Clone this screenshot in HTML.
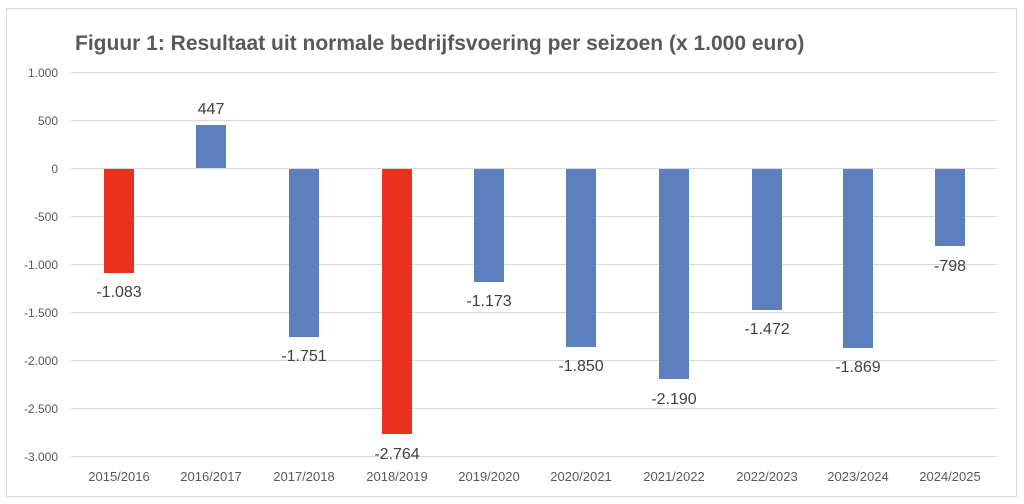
<!DOCTYPE html>
<html><head><meta charset="utf-8"><style>
body{margin:0;background:#fff;width:1024px;height:499px;overflow:hidden}
text{font-family:"Liberation Sans",sans-serif}
</style></head><body>
<svg width="1024" height="499" xmlns="http://www.w3.org/2000/svg">
<rect x="6.5" y="8.5" width="1010" height="488" fill="#fff" stroke="#d9d9d9"/>
<text x="75" y="50" font-size="21" font-weight="bold" fill="#595959">Figuur 1: Resultaat uit normale bedrijfsvoering per seizoen (x 1.000 euro)</text>
<g stroke="#d9d9d9" stroke-width="1">
<line x1="71" x2="997" y1="72.5" y2="72.5"/>
<line x1="71" x2="997" y1="120.5" y2="120.5"/>
<line x1="71" x2="997" y1="216.5" y2="216.5"/>
<line x1="71" x2="997" y1="264.5" y2="264.5"/>
<line x1="71" x2="997" y1="312.5" y2="312.5"/>
<line x1="71" x2="997" y1="360.5" y2="360.5"/>
<line x1="71" x2="997" y1="408.5" y2="408.5"/>
<line x1="71" x2="997" y1="456.5" y2="456.5"/>
<line x1="71" x2="997" y1="168.5" y2="168.5"/>
</g>
<g font-size="12" fill="#595959" text-anchor="end">
<text x="58" y="77">1.000</text>
<text x="58" y="125">500</text>
<text x="58" y="173">0</text>
<text x="58" y="221">-500</text>
<text x="58" y="269">-1.000</text>
<text x="58" y="317">-1.500</text>
<text x="58" y="365">-2.000</text>
<text x="58" y="413">-2.500</text>
<text x="58" y="461">-3.000</text>
</g>
<g>
<rect x="104" y="169" width="30" height="104" fill="#e8321e"/>
<rect x="196" y="125" width="30" height="43" fill="#5b80bd"/>
<rect x="289" y="169" width="30" height="168" fill="#5b80bd"/>
<rect x="382" y="169" width="30" height="265" fill="#e8321e"/>
<rect x="474" y="169" width="30" height="113" fill="#5b80bd"/>
<rect x="566" y="169" width="30" height="178" fill="#5b80bd"/>
<rect x="659" y="169" width="30" height="210" fill="#5b80bd"/>
<rect x="752" y="169" width="30" height="141" fill="#5b80bd"/>
<rect x="843" y="169" width="30" height="179" fill="#5b80bd"/>
<rect x="935" y="169" width="30" height="77" fill="#5b80bd"/>
</g>
<g font-size="16" fill="#404040" text-anchor="middle">
<text x="119" y="297">-1.083</text>
<text x="211" y="114">447</text>
<text x="304" y="361">-1.751</text>
<text x="397" y="459">-2.764</text>
<text x="489" y="306">-1.173</text>
<text x="581" y="371">-1.850</text>
<text x="674" y="404">-2.190</text>
<text x="767" y="334">-1.472</text>
<text x="858" y="372">-1.869</text>
<text x="950" y="271">-798</text>
</g>
<g font-size="13" fill="#595959" text-anchor="middle">
<text x="119" y="481">2015/2016</text>
<text x="211" y="481">2016/2017</text>
<text x="304" y="481">2017/2018</text>
<text x="397" y="481">2018/2019</text>
<text x="489" y="481">2019/2020</text>
<text x="581" y="481">2020/2021</text>
<text x="674" y="481">2021/2022</text>
<text x="767" y="481">2022/2023</text>
<text x="858" y="481">2023/2024</text>
<text x="950" y="481">2024/2025</text>
</g>
</svg>
</body></html>
